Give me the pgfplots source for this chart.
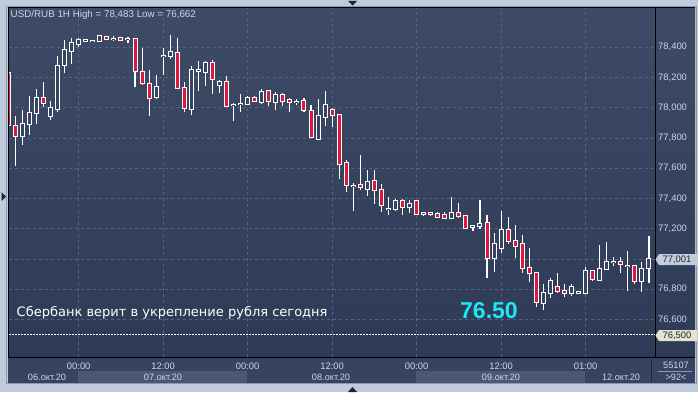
\documentclass[border=0pt]{standalone}
\usepackage{pgfplots}
\pgfplotsset{compat=1.18}
\usepackage{pgfplotstable}
\usepackage{fontspec}
\setmainfont{Liberation Sans}
\newfontfamily\dejavu{DejaVu Sans}
\definecolor{frameL}{HTML}{BFCBDA}
\definecolor{frameD}{HTML}{8B99AE}
\definecolor{bgTop}{HTML}{3E4B66}
\definecolor{bgBot}{HTML}{2E3B56}
\definecolor{bgMid}{HTML}{37445F}
\definecolor{gridc}{HTML}{56637F}
\definecolor{candlered}{HTML}{E0163C}
\definecolor{lbl}{HTML}{CCD6E8}
\definecolor{axbg}{HTML}{364461}
\definecolor{band}{HTML}{4A5874}
\definecolor{tri}{HTML}{1E2636}
\definecolor{boxA}{HTML}{C3CCDB}
\definecolor{boxB}{HTML}{E3E4CF}
\definecolor{cyanT}{HTML}{1DE9F2}

\pgfplotstableread{
i O H L C
0 78.231 78.252 77.868 77.888
1 77.882 77.948 77.617 77.815
2 77.811 77.988 77.756 77.893
3 77.893 78.076 77.817 77.966
4 77.966 78.127 77.895 78.065
5 78.065 78.171 78.003 78.032
6 77.943 78.047 77.921 77.999
7 77.992 78.345 77.974 78.277
8 78.284 78.446 78.228 78.383
9 78.376 78.462 78.292 78.429
10 78.423 78.462 78.400 78.449
11 78.444 78.456 78.438 78.448
12 78.442 78.451 78.435 78.444
13 78.440 78.478 78.435 78.473
14 78.469 78.474 78.451 78.456
15 78.454 78.473 78.444 78.456
16 78.462 78.468 78.441 78.451
17 78.456 78.471 78.429 78.458
18 78.456 78.462 78.135 78.241
19 78.237 78.392 78.153 78.162
20 78.158 78.252 77.943 78.065
21 78.072 78.219 78.058 78.138
22 78.343 78.392 78.215 78.345
23 78.345 78.483 78.325 78.367
24 78.363 78.462 78.128 78.131
25 78.131 78.173 77.970 77.999
26 77.992 78.274 77.950 78.252
27 78.246 78.307 78.109 78.248
28 78.235 78.312 78.147 78.297
29 78.297 78.319 78.092 78.191
30 78.149 78.186 78.098 78.171
31 78.171 78.213 78.003 78.009
32 78.017 78.032 77.910 78.019
33 78.025 78.094 77.970 78.027
34 78.025 78.080 78.021 78.065
35 78.065 78.080 78.040 78.045
36 78.040 78.127 78.027 78.105
37 78.111 78.120 78.014 78.042
38 78.036 78.107 77.988 78.087
39 78.087 78.100 78.014 78.042
40 78.054 78.062 77.970 78.036
41 78.039 78.060 78.016 78.040
42 78.045 78.067 77.974 77.983
43 77.979 78.021 77.800 77.804
44 77.795 78.060 77.784 77.948
45 77.939 78.113 77.882 78.019
46 77.985 78.001 77.870 77.950
47 77.954 77.959 77.531 77.628
48 77.635 77.656 77.446 77.491
49 77.485 77.502 77.319 77.486
50 77.491 77.690 77.458 77.476
51 77.466 77.590 77.418 77.509
52 77.515 77.590 77.365 77.453
53 77.456 77.498 77.314 77.354
54 77.331 77.411 77.288 77.332
55 77.332 77.398 77.319 77.385
56 77.385 77.398 77.288 77.343
57 77.341 77.392 77.307 77.363
58 77.383 77.392 77.292 77.297
59 77.301 77.305 77.286 77.300
60 77.301 77.305 77.282 77.299
61 77.299 77.314 77.272 77.281
62 77.290 77.314 77.266 77.270
63 77.268 77.411 77.268 77.305
64 77.305 77.372 77.268 77.283
65 77.286 77.292 77.201 77.208
66 77.213 77.226 77.188 77.215
67 77.215 77.392 77.198 77.231
68 77.239 77.292 76.877 77.005
69 77.005 77.173 76.911 77.098
70 77.072 77.319 77.042 77.193
71 77.193 77.277 77.100 77.122
72 77.120 77.226 77.005 77.089
73 77.100 77.160 76.910 76.939
74 76.939 77.072 76.850 76.906
75 76.906 76.906 76.685 76.714
76 76.707 76.835 76.662 76.774
77 76.774 76.873 76.745 76.855
78 76.813 76.906 76.778 76.789
79 76.789 76.835 76.751 76.774
80 76.774 76.835 76.756 76.813
81 76.778 76.783 76.776 76.779
82 76.774 76.946 76.774 76.921
83 76.921 76.928 76.857 76.866
84 76.862 77.094 76.862 76.933
85 76.933 77.115 76.933 76.979
86 76.978 77.016 76.954 76.979
87 76.981 77.016 76.910 76.968
88 76.954 77.054 76.791 76.953
89 76.956 76.956 76.835 76.855
90 76.855 76.983 76.784 76.937
91 76.943 77.153 76.844 77.001
}\data

\begin{document}
\begin{tikzpicture}[x=1pt,y=1pt]
\fill[frameL] (0,0) rectangle (698,392);
\draw[frameD, line width=0.8pt] (6,8.5) -- (6,385.5) -- (696,385.5) -- (696,8.5) -- cycle;
\shade[top color=bgTop, bottom color=bgBot] (8,35) rectangle (695,384.5);
\fill[axbg] (8,9) rectangle (695,35);
\fill[band] (78,9) rectangle (247,21);
\fill[band] (416,9) rectangle (585,21);
% frame arrows
\fill[tri] (348,391) -- (357,391) -- (352.5,386.5) -- cycle;
\fill[tri] (1.5,200) -- (1.5,191) -- (6,195.5) -- cycle;
\fill[tri] (348,0) -- (357,0) -- (352.5,5) -- cycle;

\begin{axis}[
  at={(9pt,35pt)}, anchor=south west,
  width=646pt, height=349.5pt, scale only axis,
  xmin=0.1, xmax=91.86, ymin=76.352, ymax=78.663,
  axis line style={draw=none},
  major tick length=0pt,
  xtick={10,22,34,46,58,70,82},
  xticklabels={00:00,12:00,00:00,12:00,00:00,12:00,01:00},
  ytick={76.6,76.8,77.2,77.4,77.6,77.8,78.0,78.2,78.4},
  extra y ticks={77.0},
  extra y tick labels={},
  yticklabel pos=right,
  grid=major,
  grid style={gridc, dash pattern=on 3pt off 3pt, line width=0.8pt},
  extra y tick style={grid=major, grid style={gridc, dash pattern=on 3pt off 3pt, line width=0.8pt}},
  tick label style={font=\fontsize{9.4}{10}\selectfont, text=lbl},
  xticklabel style={anchor=center, inner sep=0pt, yshift=-9pt},
  yticklabel style={anchor=west, inner sep=0pt, xshift=3pt},
  /pgf/number format/.cd, fixed, fixed zerofill, precision=3, use comma, 1000 sep={}, assume math mode=true,
]
% dashed level line
\draw[white, dash pattern=on 2pt off 1pt, line width=0.8pt] (axis cs:0.1,76.5) -- (axis cs:91.86,76.5);
% wicks
\addplot[draw=none, mark=none, error bars/.cd, y dir=plus, y explicit, error mark=none,
  error bar style={draw=white, line width=1.1pt}]
  table[x=i, y=L, y error expr=\thisrow{H}-\thisrow{L}] {\data};
% body outlines
\addplot[draw=none, mark=none, error bars/.cd, y dir=plus, y explicit, error mark=none,
  error bar style={draw=white, line width=5pt}]
  table[x=i, y expr={min(\thisrow{O},\thisrow{C})-0.0066}, y error expr={abs(\thisrow{O}-\thisrow{C})+0.0132}] {\data};
% red bodies
\addplot[draw=none, mark=none, restrict expr to domain={\thisrow{O}-\thisrow{C}}{0.00001:100},
  error bars/.cd, y dir=plus, y explicit, error mark=none,
  error bar style={draw=candlered, line width=3pt}]
  table[x=i, y=C, y error expr={\thisrow{O}-\thisrow{C}}] {\data};
% hollow bodies
\addplot[draw=none, mark=none, restrict expr to domain={\thisrow{C}-\thisrow{O}}{0.00001:100},
  error bars/.cd, y dir=plus, y explicit, error mark=none,
  error bar style={draw=bgMid, line width=3pt}]
  table[x=i, y=O, y error expr={\thisrow{C}-\thisrow{O}}] {\data};
\end{axis}

% borders
\draw[black, line width=1pt] (8.5,384.5) -- (8.5,35) -- (695,35);
\draw[black, line width=0.8pt] (8.5,384.5) -- (695,384.5);
\draw[black, line width=1pt] (655,35) -- (655,384.5);
\draw[tri, line width=0.8pt] (651,10) -- (651,32);
\draw[frameD, line width=0.6pt] (658,20.5) -- (692,20.5);

% title
\node[anchor=west, inner sep=0pt, text=lbl, font=\fontsize{9.8}{11}\selectfont] at (10.5,377) {USD/RUB 1H High = 78,483 Low = 76,662};

% date labels
\begin{scope}[every node/.style={inner sep=0pt, text=lbl, font=\fontsize{9.2}{10}\selectfont}]
\node at (47,15) {06.окт.20};
\node at (163,15) {07.окт.20};
\node at (331,15) {08.окт.20};
\node at (501,15) {09.окт.20};
\node at (621,15) {12.окт.20};
\node at (676,26.3) {55107};
\node at (676,14.5) {>92<};
\end{scope}

% price boxes
\fill[boxA] (655.5,132.5) -- (659,138) -- (697,138) -- (697,127) -- (659,127) -- cycle;
\node[inner sep=0pt, text=black!85, font=\fontsize{9.4}{10}\selectfont] at (677,132.3) {77,001};
\fill[boxB] (655.5,56.5) -- (659,62) -- (697,62) -- (697,51) -- (659,51) -- cycle;
\node[inner sep=0pt, text=black!85, font=\fontsize{9.4}{10}\selectfont] at (677,56.3) {76,500};

% annotations
\node[anchor=west, inner sep=0pt, text=white, font=\dejavu\fontsize{13}{15}\selectfont] at (16.5,79) {Сбербанк верит в укрепление рубля сегодня};
\node[anchor=west, inner sep=0pt, text=cyanT, font=\bfseries\fontsize{23}{25}\selectfont] at (460,81.5) {76.50};

\pgfresetboundingbox
\useasboundingbox (0,0) rectangle (698,392);
\end{tikzpicture}
\end{document}
